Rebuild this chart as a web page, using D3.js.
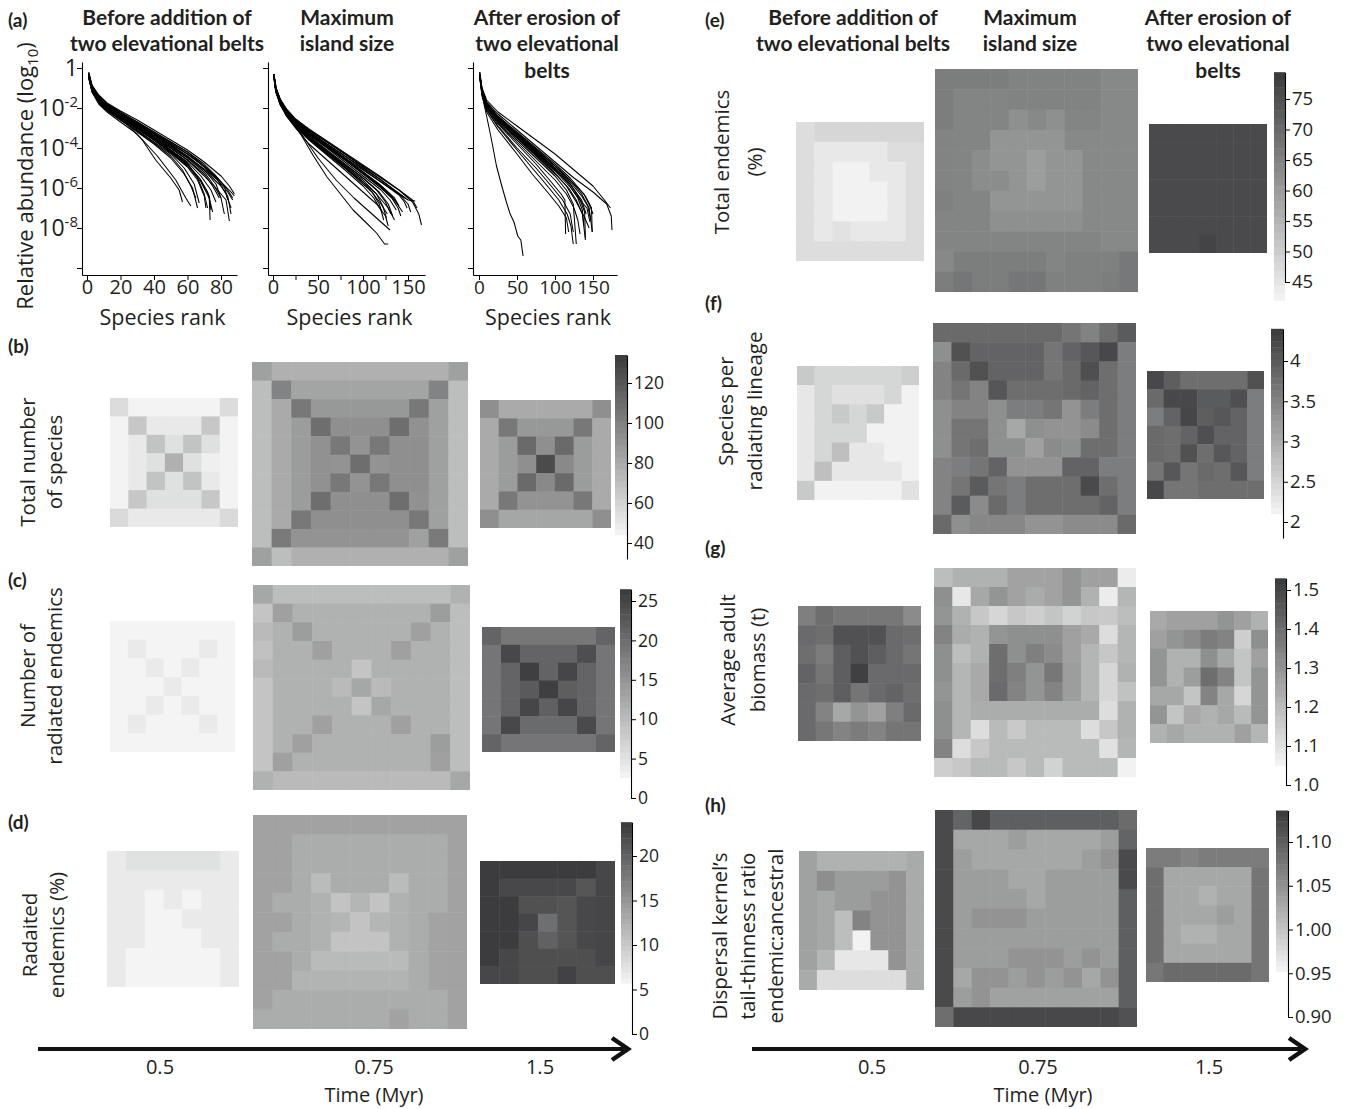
<!DOCTYPE html>
<html><head><meta charset="utf-8">
<script src="https://cdn.jsdelivr.net/npm/d3@7"></script>
<style>body{margin:0;background:#fff}svg{display:block}</style>
</head><body><svg id="c" width="1354" height="1109"></svg>
<script>
// ---------------- DATA ----------------
const columnTitles = [["Before addition of","two elevational belts"],["Maximum","island size"],["After erosion of","two elevational","belts"]];
const timeLabels = ["0.5","0.75","1.5"];

// (a) rank-abundance curves: [rank, log10 relative abundance]
const rankBefore = [
[[1,-0.3],[3,-0.95],[7,-1.5],[12,-1.9],[20,-2.3],[30,-2.8],[40,-3.3],[50,-3.8],[60,-4.3],[70,-4.9],[78,-5.5],[84,-6.1],[87,-6.5]],
[[1,-0.4],[3,-1.1],[7,-1.6],[12,-2.0],[20,-2.4],[30,-2.9],[40,-3.5],[50,-4.0],[60,-4.6],[70,-5.4],[78,-6.1],[83,-6.6],[85,-7.65]],
[[1,-0.25],[3,-0.9],[7,-1.4],[12,-1.8],[20,-2.2],[30,-2.7],[40,-3.2],[50,-3.7],[60,-4.2],[70,-4.9],[80,-5.7],[86,-6.2],[88,-6.4]],
[[1,-0.35],[3,-1.05],[7,-1.6],[12,-2.0],[20,-2.5],[30,-3.0],[40,-3.6],[50,-4.2],[60,-4.9],[68,-5.7],[73,-6.5],[73.5,-7.6]],
[[1,-0.45],[3,-1.2],[7,-1.7],[12,-2.1],[20,-2.6],[30,-3.2],[40,-3.8],[50,-4.5],[58,-5.3],[63,-6.0],[66,-7.0]],
[[1,-0.3],[3,-1.0],[7,-1.5],[12,-1.9],[20,-2.4],[26,-3.0],[33,-3.6],[41,-4.6],[50,-5.5],[55,-6.1],[57,-6.7]],
[[1,-0.5],[3,-1.2],[7,-1.8],[12,-2.2],[20,-2.7],[30,-3.3],[42,-4.4],[53,-5.6],[59,-6.5],[62,-6.9]],
[[1,-0.3],[3,-1.0],[7,-1.45],[12,-1.85],[20,-2.3],[30,-2.85],[40,-3.4],[50,-3.95],[60,-4.5],[70,-5.2],[76,-5.9],[80,-6.5],[82,-7.3]],
[[1,-0.35],[3,-1.0],[7,-1.55],[12,-1.95],[20,-2.35],[30,-2.8],[40,-3.3],[50,-3.85],[60,-4.45],[70,-5.1],[77,-5.8],[80,-6.5]],
[[1,-0.2],[3,-0.85],[7,-1.35],[12,-1.75],[20,-2.15],[30,-2.6],[40,-3.1],[50,-3.6],[60,-4.1],[70,-4.7],[80,-5.4],[85,-5.9],[88,-6.3]],
[[1,-0.4],[3,-1.1],[7,-1.65],[12,-2.05],[20,-2.5],[30,-3.0],[40,-3.55],[50,-4.15],[60,-4.8],[67,-5.5],[72,-6.2],[75,-7.2]],
[[1,-0.3],[3,-0.95],[7,-1.5],[12,-1.95],[20,-2.45],[30,-2.95],[40,-3.45],[50,-4.1],[60,-4.75],[66,-5.5],[70,-6.3],[72,-7.0]],
[[1,-0.45],[3,-1.15],[7,-1.7],[12,-2.1],[20,-2.55],[30,-3.1],[40,-3.7],[50,-4.3],[58,-5.0],[64,-5.8],[67,-6.75]],
[[1,-0.3],[3,-1.0],[7,-1.5],[12,-1.9],[20,-2.3],[30,-2.75],[40,-3.25],[50,-3.75],[60,-4.3],[70,-4.95],[78,-5.6],[83,-6.3],[86,-7.0]],
[[1,-0.25],[3,-0.9],[7,-1.4],[12,-1.8],[20,-2.25],[30,-2.7],[40,-3.2],[50,-3.7],[60,-4.2],[70,-4.8],[76,-5.3],[82,-5.9],[84,-6.6]],
[[1,-0.5],[3,-1.2],[7,-1.75],[12,-2.15],[20,-2.6],[30,-3.15],[40,-3.75],[50,-4.4],[57,-5.1],[62,-5.9],[65,-6.5]],
[[1,-0.35],[3,-1.05],[7,-1.55],[12,-1.95],[20,-2.4],[30,-2.9],[40,-3.45],[50,-4.0],[60,-4.6],[70,-5.3],[75,-5.9],[79,-6.5]],
[[1,-0.3],[3,-1.0],[7,-1.5],[12,-1.85],[20,-2.3],[30,-2.8],[40,-3.3],[50,-3.85],[60,-4.4],[70,-5.1],[80,-5.9],[84,-6.4],[86,-7.3]],
[[1,-0.4],[3,-1.1],[7,-1.6],[12,-2.0],[20,-2.45],[30,-3.0],[40,-3.6],[50,-4.25],[60,-4.95],[66,-5.6],[70,-6.4],[71,-7.0]],
[[1,-0.3],[3,-0.95],[7,-1.45],[12,-1.9],[20,-2.35],[30,-2.85],[40,-3.35],[50,-3.9],[60,-4.45],[70,-5.05],[78,-5.6],[84,-6.2],[87,-6.6]],
[[1,-0.35],[3,-1.0],[7,-1.5],[12,-1.9],[20,-2.4],[30,-2.95],[40,-3.5],[50,-4.1],[60,-4.7],[68,-5.4],[74,-6.1],[77,-6.7]],
[[1,-0.4],[3,-1.05],[7,-1.6],[12,-2.0],[20,-2.5],[30,-3.05],[40,-3.6],[50,-4.2],[60,-4.85],[68,-5.6],[73,-6.4],[74,-7.1]]
];
const rankMax = [
[[1,-0.3],[3,-1.0],[8,-1.6],[15,-2.1],[25,-2.6],[40,-3.1],[60,-3.7],[80,-4.3],[100,-4.9],[120,-5.5],[140,-6.1],[155,-6.7],[162,-7.3],[165,-7.85]],
[[1,-0.35],[3,-1.05],[8,-1.7],[15,-2.2],[25,-2.7],[40,-3.25],[60,-3.9],[80,-4.5],[100,-5.1],[120,-5.7],[140,-6.3],[150,-6.6],[158,-6.65]],
[[1,-0.4],[3,-1.1],[8,-1.75],[15,-2.25],[25,-2.8],[40,-3.4],[60,-4.1],[80,-4.8],[100,-5.5],[115,-6.1],[125,-6.7],[131,-7.3]],
[[1,-0.3],[3,-1.0],[8,-1.65],[15,-2.15],[25,-2.65],[40,-3.2],[60,-3.85],[80,-4.5],[100,-5.2],[120,-5.9],[135,-6.5],[140,-6.9]],
[[1,-0.45],[3,-1.15],[8,-1.8],[15,-2.35],[25,-2.9],[40,-3.55],[60,-4.3],[80,-5.0],[100,-5.7],[115,-6.3],[128,-7.0],[135,-7.6]],
[[1,-0.3],[3,-1.0],[8,-1.6],[15,-2.1],[25,-2.6],[40,-3.15],[60,-3.8],[80,-4.4],[100,-5.0],[120,-5.6],[135,-6.1],[147,-6.5]],
[[1,-0.35],[3,-1.1],[8,-1.7],[15,-2.2],[25,-2.75],[40,-3.35],[60,-4.0],[80,-4.7],[100,-5.4],[120,-6.1],[130,-6.6],[137,-7.1]],
[[1,-0.4],[3,-1.1],[8,-1.8],[15,-2.3],[25,-2.85],[40,-3.5],[60,-4.2],[80,-4.9],[100,-5.6],[115,-6.3],[122,-6.9],[126,-7.5]],
[[1,-0.3],[3,-0.95],[8,-1.55],[15,-2.05],[25,-2.55],[40,-3.1],[60,-3.7],[80,-4.3],[100,-4.95],[120,-5.6],[140,-6.3],[150,-6.8],[153,-7.2]],
[[1,-0.5],[3,-1.2],[8,-1.85],[15,-2.4],[25,-2.95],[40,-3.6],[60,-4.35],[80,-5.1],[100,-5.9],[112,-6.5],[120,-7.1],[123,-7.6]],
[[1,-0.35],[3,-1.05],[8,-1.65],[15,-2.15],[25,-2.7],[40,-3.3],[60,-3.95],[80,-4.6],[100,-5.3],[120,-6.0],[132,-6.5],[139,-7.0],[142,-7.4]],
[[1,-0.3],[3,-1.0],[8,-1.6],[15,-2.1],[25,-2.6],[40,-3.2],[60,-3.8],[80,-4.4],[100,-5.05],[120,-5.7],[140,-6.35],[146,-6.7],[149,-7.0]],
[[1,-0.4],[3,-1.1],[8,-1.75],[15,-2.25],[25,-2.8],[40,-3.45],[60,-4.15],[80,-4.85],[100,-5.5],[118,-6.2],[128,-6.8],[133,-7.4]],
[[1,-0.35],[3,-1.05],[8,-1.7],[15,-2.2],[25,-2.75],[40,-3.3],[60,-3.95],[80,-4.6],[100,-5.25],[120,-5.95],[135,-6.6],[144,-7.2]],
[[1,-0.45],[3,-1.15],[8,-1.8],[15,-2.3],[25,-2.9],[40,-3.55],[60,-4.25],[80,-5.0],[95,-5.6],[110,-6.2],[120,-6.8],[127,-7.3]],
[[1,-0.3],[3,-1.0],[8,-1.6],[15,-2.1],[25,-2.65],[40,-3.25],[60,-3.9],[80,-4.55],[100,-5.2],[118,-5.8],[130,-6.3],[138,-6.8]],
[[1,-0.4],[3,-1.1],[8,-1.7],[15,-2.3],[25,-2.85],[40,-3.5],[60,-4.2],[80,-4.95],[100,-5.7],[110,-6.2],[118,-6.8],[121,-7.2]],
[[1,-0.3],[3,-1.0],[8,-1.6],[15,-2.05],[25,-2.55],[40,-3.05],[60,-3.65],[80,-4.25],[100,-4.85],[120,-5.45],[140,-6.1],[155,-6.6],[160,-7.0]],
[[1,-0.3],[4,-1.1],[15,-2.4],[30,-3.25],[45,-4.4],[60,-5.45],[75,-6.3],[89,-7.1],[105,-7.8],[115,-8.25],[124,-8.8],[128,-8.8]],
[[1,-0.4],[5,-1.3],[15,-2.3],[30,-3.2],[50,-4.5],[70,-5.6],[90,-6.5],[110,-7.3],[125,-7.9],[130,-8.1]],
[[1,-0.35],[3,-1.1],[8,-1.8],[15,-2.4],[25,-3.0],[40,-3.8],[60,-4.6],[80,-5.4],[100,-6.2],[115,-6.8],[125,-7.4],[128,-7.9]]
];
const rankAfter = [
[[1,-0.2],[4,-1.0],[10,-1.6],[25,-2.2],[50,-2.9],[75,-3.6],[100,-4.3],[125,-5.1],[150,-5.9],[165,-6.6],[173,-7.0]],
[[1,-0.3],[4,-1.1],[10,-1.7],[25,-2.3],[50,-3.1],[75,-3.9],[100,-4.7],[125,-5.5],[150,-6.2],[168,-6.8],[174,-7.4],[175,-8.1]],
[[1,-0.3],[4,-1.15],[10,-1.8],[25,-2.5],[50,-3.3],[75,-4.1],[100,-4.9],[120,-5.6],[135,-6.3],[145,-7.0],[149,-8.2]],
[[1,-0.35],[4,-1.2],[10,-1.85],[25,-2.55],[50,-3.4],[75,-4.25],[100,-5.1],[120,-5.8],[132,-6.5],[139,-7.2],[140,-8.5]],
[[1,-0.4],[4,-1.25],[10,-1.9],[25,-2.7],[50,-3.6],[75,-4.5],[100,-5.4],[115,-6.1],[124,-6.8],[128,-8.8]],
[[1,-0.3],[4,-1.1],[10,-1.75],[25,-2.45],[50,-3.3],[75,-4.15],[100,-5.0],[120,-5.8],[135,-6.6],[141,-7.3]],
[[1,-0.35],[4,-1.2],[10,-1.9],[25,-2.6],[50,-3.5],[75,-4.35],[100,-5.25],[115,-5.9],[128,-6.7],[138,-7.4],[145,-8.0]],
[[1,-0.4],[4,-1.3],[10,-2.0],[25,-2.8],[50,-3.8],[75,-4.8],[95,-5.7],[108,-6.3],[113,-6.6],[114,-8.3]],
[[1,-0.3],[4,-1.15],[10,-1.8],[25,-2.5],[50,-3.35],[75,-4.2],[100,-5.0],[120,-5.7],[135,-6.4],[143,-6.9],[147,-7.6]],
[[1,-0.45],[4,-1.3],[10,-2.05],[25,-2.9],[50,-4.0],[75,-5.0],[95,-5.9],[110,-6.6],[120,-7.3],[124,-8.2]],
[[1,-0.35],[4,-1.2],[10,-1.85],[25,-2.6],[50,-3.45],[75,-4.3],[100,-5.15],[120,-5.95],[133,-6.6],[142,-7.0],[146,-7.7]],
[[1,-0.3],[4,-1.1],[10,-1.7],[25,-2.4],[50,-3.2],[75,-4.0],[100,-4.8],[120,-5.5],[138,-6.3],[146,-6.9],[150,-7.3]],
[[1,-0.5],[4,-1.4],[10,-2.2],[25,-3.1],[50,-4.3],[70,-5.3],[90,-6.2],[105,-6.9],[115,-7.5],[118,-8.2]],
[[1,-0.4],[4,-1.25],[10,-1.95],[25,-2.75],[50,-3.7],[75,-4.65],[100,-5.6],[115,-6.3],[125,-7.0],[130,-7.6],[133,-8.3]],
[[1,-0.3],[4,-1.15],[10,-1.8],[25,-2.5],[50,-3.35],[75,-4.2],[100,-5.05],[118,-5.8],[130,-6.5],[136,-7.1],[138,-7.9]],
[[1,-0.35],[4,-1.2],[10,-1.9],[25,-2.65],[50,-3.5],[75,-4.4],[100,-5.3],[118,-6.0],[128,-6.6],[136,-7.3],[140,-8.6]],
[[1,-0.45],[4,-1.35],[10,-2.1],[25,-2.95],[50,-4.1],[70,-5.0],[90,-5.9],[105,-6.6],[116,-7.3],[121,-7.9],[124,-8.8]],
[[1,-0.2],[3,-0.9],[6,-1.7],[10,-2.4],[16,-3.5],[23,-4.9],[30,-5.9],[36,-6.7],[41,-7.3],[46,-7.7],[51,-8.4],[55,-8.6],[58,-9.4]],
[[1,-0.3],[4,-1.1],[10,-1.75],[25,-2.45],[50,-3.25],[75,-4.05],[100,-4.9],[125,-5.8],[140,-6.4],[148,-7.0],[149,-8.2]]
];

// (b) Total number of species
const bRange = [44, 134];
const bTicks = [40, 60, 80, 100, 120];
const bSmall = [
[56,45,45,45,45,45,56],
[45,66,50,50,50,66,45],
[45,50,68,54,68,54,45],
[45,50,54,77,54,47,45],
[45,50,68,54,68,50,45],
[45,66,54,54,54,66,45],
[57,50,50,50,50,50,57]];
const bLarge = [
[85,77,77,77,77,77,77,77,77,77,85],
[71,99,83,83,83,83,83,83,83,99,71],
[71,80,104,89,89,89,89,89,104,85,71],
[71,80,87,109,93,93,93,109,92,85,71],
[71,80,87,92,104,91,104,93,93,85,71],
[71,80,87,92,91,109,91,93,93,85,71],
[71,80,87,92,104,91,104,93,93,85,71],
[71,80,87,109,93,93,93,109,92,85,71],
[71,80,104,93,93,93,93,93,104,85,71],
[71,103,91,91,91,91,91,91,85,103,71],
[85,71,77,77,77,77,77,77,77,77,85]];
const bMedium = [
[93,80,80,80,80,80,93],
[80,104,89,89,89,104,80],
[80,87,111,93,111,87,80],
[80,87,93,126,96,87,80],
[80,87,111,96,111,87,80],
[80,104,91,91,91,104,80],
[93,82,82,82,82,82,93]];

// (c) Number of radiated endemics
const cRange = [2.6, 26.5];
const cTicks = [0, 5, 10, 15, 20, 25];
const cSmall = [
[2.7,2.7,2.7,2.7,2.7,2.7,2.7],
[2.7,4.0,2.7,2.7,2.7,4.0,2.7],
[2.7,2.7,4.0,2.7,4.0,2.7,2.7],
[2.7,2.7,2.7,4.0,2.7,2.7,2.7],
[2.7,2.7,4.0,2.7,4.0,2.7,2.7],
[2.7,4.0,2.7,2.7,2.7,4.0,2.7],
[2.7,2.7,2.7,2.7,2.7,2.7,2.7]];
const cLarge = [
[12.6,9.8,9.8,9.8,9.8,9.8,9.8,9.8,9.8,9.8,11.3],
[8.9,13.4,11.3,11.3,11.3,11.3,11.3,11.3,11.3,13.9,9.8],
[10.2,11.3,13.9,11.3,11.3,11.3,11.3,11.3,13.4,11.3,9.8],
[9.3,11.3,11.3,13.4,11.3,11.3,11.3,13.4,11.3,11.3,9.8],
[10.2,11.3,11.3,11.3,11.3,8.9,11.3,11.3,11.3,11.3,9.8],
[8.9,11.3,11.3,11.3,10.2,12.6,10.2,11.3,11.3,11.3,9.8],
[8.9,11.3,11.3,11.3,11.3,8.9,12.6,11.3,11.3,11.3,9.8],
[8.9,11.3,11.3,13.4,11.3,11.3,11.3,13.4,11.3,11.3,9.8],
[8.9,11.3,13.4,11.3,11.3,11.3,11.3,11.3,11.3,13.9,9.8],
[8.9,13.4,11.3,11.3,11.3,11.3,11.3,11.3,11.3,13.4,9.8],
[11.3,10.2,10.2,10.2,10.2,10.2,10.2,10.2,10.2,10.2,12.6]];
const cMedium = [
[21.1,18.7,18.7,18.7,18.7,18.7,21.1],
[18.9,24.7,21.1,21.1,21.1,23.9,18.9],
[18.9,21.1,25.9,21.2,25.0,21.1,18.9],
[18.9,21.1,22.4,25.9,21.9,21.1,18.9],
[18.9,21.1,25.0,21.6,25.0,21.1,18.9],
[18.9,24.7,20.3,20.3,20.3,24.4,18.9],
[21.1,18.9,18.9,18.9,18.9,18.9,21.1]];

// (d) Radiated endemics (%)
const dRange = [5.7, 23.8];
const dTicks = [0, 5, 10, 15, 20];
const dSmall = [
[6.8,7.6,7.6,7.6,7.6,7.6,6.8],
[6.8,6.8,6.8,6.8,6.8,6.8,6.8],
[6.8,6.8,5.8,6.8,5.8,6.8,6.8],
[6.8,6.8,5.8,5.8,6.8,6.8,6.8],
[6.8,6.8,5.8,5.8,5.8,6.8,6.8],
[6.8,5.8,5.8,5.8,5.8,5.8,6.8],
[6.8,5.8,5.8,5.8,5.8,5.8,6.8]];
const dLarge = [
[13.7,13.7,13.7,13.7,13.7,13.7,13.7,13.7,13.7,13.7,13.7],
[13.7,13.7,12.8,12.8,12.8,12.8,12.8,12.8,12.8,12.8,13.7],
[13.7,13.7,12.8,12.8,12.8,12.8,12.8,12.8,12.8,12.8,13.7],
[13.7,13.7,12.8,11.3,12.8,12.8,12.8,11.3,12.8,12.8,13.7],
[13.7,12.8,12.8,12.3,10.5,11.9,10.5,12.3,12.8,12.8,13.7],
[13.7,13.7,12.8,12.3,11.9,10.5,11.9,12.3,12.8,13.6,13.7],
[13.7,12.8,12.8,12.3,10.5,10.5,10.5,12.3,12.8,13.6,13.7],
[13.7,13.7,12.8,11.4,11.4,11.4,11.4,11.4,12.8,13.6,13.7],
[13.7,13.7,12.1,12.1,12.1,12.1,12.1,12.1,12.8,13.6,13.7],
[13.7,12.8,12.8,12.8,12.8,12.8,12.8,12.8,12.8,12.8,13.7],
[12.8,12.8,12.8,12.8,12.8,12.8,12.8,13.7,12.8,12.8,13.7]];
const dMedium = [
[23.6,23.6,23.6,23.6,23.6,23.6,22.5],
[23.6,22.4,22.4,22.4,22.4,21.1,22.6],
[23.6,23.6,21.6,21.6,21.2,22.4,22.6],
[23.6,23.6,22.6,18.7,21.2,22.4,22.6],
[23.6,23.6,21.8,20.0,21.2,22.4,22.6],
[23.6,22.5,21.8,21.8,21.8,21.8,22.6],
[22.5,22.5,21.8,21.8,23.0,21.8,21.8]];

// (e) Total endemics (%)
const eRange = [42, 79.4];
const eTicks = [45, 50, 55, 60, 65, 70, 75];
const eSmall = [
[46.8,48.2,48.2,48.2,48.2,48.2,48.2],
[46.8,44.6,44.6,44.6,44.6,46.8,46.8],
[46.8,44.6,42.6,42.6,44.6,44.6,46.8],
[46.8,44.6,42.6,42.6,42.6,44.6,46.8],
[46.8,44.6,42.6,42.6,42.6,44.6,46.8],
[46.8,44.6,45.8,44.6,44.6,44.6,46.8],
[46.8,46.8,46.8,46.8,46.8,46.8,46.8]];
const eLarge = [
[66.1,66.1,66.1,66.1,65.1,65.1,65.1,65.1,65.1,63.9,63.9],
[66.1,64.7,64.7,64.7,65.1,65.1,65.1,65.1,65.1,63.9,63.9],
[66.1,64.7,64.7,64.7,62.5,63.9,62.5,64.7,64.7,63.9,63.9],
[64.9,64.7,64.7,61.5,61.5,61.5,61.5,63.9,63.9,63.9,63.9],
[64.9,64.7,63.1,61.5,61.5,59.7,61.5,61.5,63.9,63.9,63.9],
[64.9,64.7,63.1,63.1,61.5,59.7,61.5,61.5,63.9,63.9,63.9],
[65.5,64.7,64.7,61.5,61.5,61.5,61.5,61.5,63.9,63.9,63.9],
[64.7,64.7,64.7,62.5,62.5,62.5,62.5,62.5,63.9,63.9,63.9],
[64.7,64.7,64.7,64.7,64.7,64.7,64.7,64.7,64.7,63.9,63.9],
[63.9,66.1,66.1,66.1,66.1,66.1,64.7,65.5,65.5,65.5,67.1],
[66.1,67.5,66.1,66.1,67.5,67.5,65.5,65.5,65.5,66.1,67.1]];
const eMedium = [
[76.2,76.2,76.2,76.2,76.2,76.2,76.2],
[76.2,76.2,76.2,76.2,76.2,76.2,76.2],
[76.2,76.2,76.2,76.2,76.2,76.2,76.2],
[76.2,76.2,76.2,76.2,76.2,76.2,76.2],
[76.2,76.2,76.2,76.2,76.2,76.2,76.2],
[76.2,76.2,76.2,76.2,76.2,76.2,76.2],
[76.2,76.2,76.2,77.4,76.2,76.2,76.2]];

// (f) Species per radiating lineage
const fRange = [2.1, 4.4];
const fTicks = [2, 2.5, 3, 3.5, 4];
const fSmall = [
[2.64,2.48,2.48,2.48,2.48,2.48,2.58],
[2.27,2.48,2.36,2.36,2.36,2.48,2.14],
[2.27,2.48,2.64,2.48,2.64,2.14,2.14],
[2.27,2.48,2.48,2.48,2.14,2.14,2.14],
[2.27,2.48,2.76,2.27,2.27,2.14,2.14],
[2.27,2.76,2.27,2.27,2.27,2.27,2.14],
[2.64,2.14,2.14,2.14,2.14,2.14,2.34]];
const fLarge = [
[3.81,3.81,3.81,3.81,3.81,3.81,3.81,3.67,3.52,3.76,4.00],
[3.36,4.12,3.89,3.89,3.89,3.89,3.67,3.89,4.04,4.23,3.58],
[3.50,3.81,4.12,3.89,3.89,3.89,3.67,3.81,4.14,3.76,3.58],
[3.50,3.67,3.50,4.05,3.76,3.76,3.76,3.81,3.89,3.76,3.58],
[3.36,3.50,3.50,3.36,3.58,3.58,3.67,3.30,3.58,3.76,3.58],
[3.36,3.67,3.67,3.36,3.06,3.36,3.30,3.30,3.40,3.76,3.58],
[3.36,3.67,3.76,3.36,3.36,3.14,3.40,3.36,3.76,3.76,3.58],
[3.50,3.58,3.67,3.89,3.30,3.30,3.30,3.89,3.89,3.58,3.58],
[3.50,3.67,4.00,3.67,3.58,3.76,3.76,3.76,4.20,3.76,3.58],
[3.50,4.00,3.40,3.81,3.58,3.76,3.76,3.76,3.76,3.89,3.58],
[3.81,3.36,3.45,3.45,3.45,3.30,3.30,3.40,3.40,3.40,3.81]];
const fMedium = [
[4.23,3.96,3.76,3.76,3.76,3.76,4.12],
[3.81,4.23,4.23,4.00,4.00,4.14,3.58],
[3.58,3.89,4.25,3.96,4.04,3.89,3.58],
[3.81,3.76,3.89,4.14,3.89,3.89,3.58],
[3.81,3.76,4.12,3.76,4.04,3.89,3.58],
[3.67,4.04,3.67,3.81,3.76,4.04,3.58],
[4.23,3.67,3.67,3.76,3.76,3.76,3.76]];

// (g) Average adult biomass (t)
const gRange = [1.05, 1.53];
const gTicks = [1.0, 1.1, 1.2, 1.3, 1.4, 1.5];
const gSmall = [
[1.352,1.396,1.373,1.373,1.373,1.373,1.321],
[1.406,1.396,1.471,1.471,1.471,1.406,1.396],
[1.396,1.360,1.437,1.471,1.437,1.406,1.378],
[1.424,1.378,1.437,1.514,1.406,1.406,1.406],
[1.406,1.396,1.437,1.378,1.406,1.424,1.396],
[1.406,1.342,1.251,1.300,1.267,1.352,1.406],
[1.406,1.373,1.342,1.360,1.342,1.378,1.378]];
const gLarge = [
[1.194,1.225,1.225,1.225,1.262,1.262,1.262,1.300,1.267,1.267,1.073],
[1.313,1.086,1.251,1.300,1.262,1.241,1.262,1.300,1.225,1.073,1.215],
[1.300,1.225,1.169,1.130,1.169,1.151,1.176,1.140,1.169,1.164,1.194],
[1.342,1.241,1.225,1.300,1.313,1.313,1.313,1.267,1.244,1.112,1.215],
[1.313,1.194,1.225,1.396,1.313,1.352,1.321,1.267,1.215,1.169,1.215],
[1.313,1.215,1.244,1.396,1.352,1.300,1.373,1.277,1.215,1.130,1.225],
[1.300,1.215,1.244,1.406,1.342,1.300,1.342,1.277,1.215,1.130,1.184],
[1.313,1.215,1.238,1.238,1.238,1.238,1.238,1.238,1.238,1.112,1.225],
[1.313,1.215,1.112,1.202,1.164,1.202,1.202,1.202,1.112,1.169,1.225],
[1.342,1.112,1.169,1.202,1.202,1.202,1.202,1.202,1.202,1.102,1.215],
[1.151,1.169,1.202,1.202,1.169,1.202,1.140,1.202,1.202,1.202,1.058]];
const gMedium = [
[1.244,1.267,1.267,1.267,1.300,1.267,1.225],
[1.267,1.300,1.321,1.360,1.342,1.151,1.313],
[1.300,1.225,1.225,1.313,1.251,1.176,1.267],
[1.300,1.225,1.277,1.396,1.342,1.176,1.300],
[1.251,1.251,1.176,1.342,1.251,1.130,1.300],
[1.300,1.176,1.244,1.225,1.251,1.202,1.300],
[1.225,1.251,1.225,1.225,1.225,1.267,1.215]];

// (h) Dispersal kernel's tail-thinness ratio endemic:ancestral
const hRange = [0.952, 1.136];
const hTicks = [0.90, 0.95, 1.00, 1.05, 1.10];
const hSmall = [
[1.035,1.019,1.019,1.019,1.019,1.019,1.026],
[1.035,1.053,1.040,1.040,1.040,1.048,1.026],
[1.035,1.029,1.040,1.040,1.048,1.048,1.026],
[1.035,1.029,1.007,1.064,1.048,1.048,1.026],
[1.035,1.029,1.007,0.955,1.048,1.048,1.026],
[1.035,1.015,0.966,0.966,0.966,1.048,1.026],
[1.026,0.976,0.976,0.976,0.976,0.976,1.026]];
const hLarge = [
[1.120,1.095,1.123,1.100,1.100,1.100,1.100,1.100,1.100,1.100,1.088],
[1.120,1.029,1.029,1.029,1.039,1.029,1.029,1.029,1.029,1.039,1.095],
[1.120,1.039,1.029,1.029,1.029,1.029,1.029,1.029,1.039,1.048,1.120],
[1.120,1.039,1.039,1.039,1.029,1.029,1.039,1.039,1.039,1.039,1.120],
[1.120,1.039,1.039,1.039,1.039,1.029,1.039,1.039,1.039,1.039,1.100],
[1.120,1.039,1.048,1.048,1.048,1.039,1.039,1.039,1.039,1.039,1.100],
[1.120,1.039,1.039,1.039,1.039,1.039,1.039,1.039,1.039,1.039,1.100],
[1.120,1.039,1.039,1.039,1.048,1.048,1.048,1.039,1.048,1.039,1.100],
[1.120,1.029,1.048,1.048,1.039,1.048,1.039,1.048,1.029,1.048,1.100],
[1.120,1.039,1.048,1.035,1.035,1.035,1.035,1.035,1.035,1.035,1.100],
[1.085,1.122,1.122,1.122,1.122,1.122,1.122,1.122,1.122,1.122,1.113]];
const hMedium = [
[1.071,1.071,1.064,1.071,1.071,1.071,1.071],
[1.085,1.029,1.029,1.029,1.029,1.029,1.078],
[1.085,1.029,1.029,1.019,1.029,1.029,1.078],
[1.085,1.029,1.029,1.029,1.039,1.029,1.078],
[1.085,1.029,1.019,1.019,1.029,1.029,1.078],
[1.085,1.029,1.029,1.029,1.029,1.029,1.078],
[1.076,1.088,1.088,1.088,1.088,1.088,1.078]];

// ---------------- LAYOUT / STYLE ----------------
const FONT = "'Open Sans', 'DejaVu Sans', sans-serif";
const TFONT = "Lato, 'Open Sans', sans-serif";
const INK = "#231f20";
const LIGHT = "#f4f5f4", DARK = "#3a3a3c";

const svg = d3.select("#c");
svg.append("rect").attr("width",1354).attr("height",1109).attr("fill","#fff");

function txt(x, y, s, o = {}) {
  return svg.append("text").attr("x", x).attr("y", y).text(s)
    .attr("font-family", o.family || FONT).attr("font-size", o.size || 20)
    .attr("font-weight", o.weight || "normal").attr("fill", INK)
    .attr("text-anchor", o.anchor || "middle");
}
function vtxt(cx, cy, s, size) {
  svg.append("text").attr("transform", `translate(${cx},${cy}) rotate(-90)`)
    .attr("text-anchor", "middle").attr("font-family", FONT).attr("font-size", size)
    .attr("fill", INK).text(s);
}

// panel letters
const letters = [["(a)",8,27],["(b)",8,353],["(c)",8,587],["(d)",8,829],["(e)",705,27],["(f)",705,310],["(g)",705,555],["(h)",705,812]];
letters.forEach(([s,x,y]) => txt(x, y, s, {weight:"bold", size:19, anchor:"start", family:TFONT}));

// column titles
const titleCentersLeft = [167, 347, 547], titleCentersRight = [853, 1030, 1218];
const titleBaselines = [25, 51, 78];
columnTitles.forEach((lines, i) => {
  lines.forEach((l, j) => {
    txt(titleCentersLeft[i], titleBaselines[j], l, {weight:"bold", size:21, family:TFONT});
    txt(titleCentersRight[i], titleBaselines[j], l, {weight:"bold", size:21, family:TFONT});
  });
});

// ---------------- (a) rank-abundance ----------------
const yA = d3.scaleLinear().domain([0, -10]).range([68, 268]);
const rankPlots = [
  {curves: rankBefore, x0: 87, xEnd: 87 + 1.675*100, axX: 82, lineEnd: 237, ticks:[0,20,40,60,80], labels:[0,20,40,60,80], fs:20, ylab:true},
  {curves: rankMax, x0: 273, xEnd: 273 + 0.9*100, axX: 268, lineEnd: 425, ticks:[0,25,50,75,100,125,150], labels:[0,50,100,150], fs:20, ylab:false},
  {curves: rankAfter, x0: 479, xEnd: 479 + 0.76*100, axX: 473, lineEnd: 617, ticks:[0,50,100,150], labels:[0,50,100,150], fs:19, ylab:false}
];
rankPlots.forEach(p => {
  const x = d3.scaleLinear().domain([0, 100]).range([p.x0, p.xEnd]);
  const g = svg.append("g");
  const line = d3.line().x(d => x(d[0])).y(d => yA(d[1]));
  g.selectAll("path.c").data(p.curves).join("path").attr("class","c")
    .attr("d", line).attr("fill","none").attr("stroke","#000").attr("stroke-width",1.05)
    .attr("stroke-linejoin","round");
  // y axis
  const yAx = yA.copy().domain([0.3, -10.35]).range([yA(0.3), yA(-10.35)]);
  const ya = svg.append("g").attr("transform", `translate(${p.axX},0)`)
    .call(d3.axisLeft(yAx).tickValues([0,-2,-4,-6,-8,-10]).tickSize(5).tickSizeOuter(0).tickFormat(""));
  ya.select(".domain").attr("stroke","#000").attr("stroke-width",1.1);
  ya.selectAll(".tick line").attr("stroke","#000");
  ya.selectAll("text").remove();
  // x axis
  const xAx = x.copy().domain([x.invert(p.axX), x.invert(p.lineEnd)]).range([p.axX, p.lineEnd]);
  const xa = svg.append("g").attr("transform", `translate(0,275)`)
    .call(d3.axisBottom(xAx).tickValues(p.ticks).tickSize(5).tickSizeOuter(0).tickPadding(0)
      .tickFormat(d => p.labels.includes(d) ? d : ""));
  xa.select(".domain").attr("stroke","#000").attr("stroke-width",1.1);
  xa.selectAll(".tick line").attr("stroke","#000");
  xa.selectAll("text").filter(d => !p.labels.includes(d)).remove();
  xa.selectAll("text").attr("font-family", FONT).attr("font-size", p.fs).attr("fill", INK);
  txt((p.axX + p.lineEnd)/2 + 3, 325, "Species rank", {size:21.5});
  if (p.ylab) {
    [0,-2,-4,-6,-8].forEach(v => {
      const t = svg.append("text").attr("x", 78).attr("y", yA(v)).attr("dy","0.36em")
        .attr("text-anchor","end").attr("font-family",FONT).attr("font-size",23).attr("fill",INK);
      if (v === 0) t.text("1");
      else { t.append("tspan").text("10"); t.append("tspan").attr("dy",-9).attr("font-size",15).text(String(v)); }
    });
  }
});
// y label with subscript
{
  const t = svg.append("text").attr("transform","translate(33,176) rotate(-90)")
    .attr("text-anchor","middle").attr("font-family",FONT).attr("font-size",22).attr("fill",INK);
  t.append("tspan").text("Relative abundance (log");
  t.append("tspan").attr("dy",5).attr("font-size",15).text("10");
  t.append("tspan").attr("dy",-5).text(")");
}

// ---------------- heatmaps ----------------
function colorFor(range) {
  return d3.scaleLinear().domain(range).range([LIGHT, DARK]).clamp(true);
}
function drawGrid(data, box, color) {
  const rows = data.length, cols = data[0].length;
  const x = d3.scaleBand().domain(d3.range(cols)).range([box[0], box[1]]);
  const y = d3.scaleBand().domain(d3.range(rows)).range([box[2], box[3]]);
  const cells = data.flatMap((row, r) => row.map((v, c) => ({r, c, v})));
  svg.append("g").selectAll("rect").data(cells).join("rect")
    .attr("x", d => x(d.c)).attr("y", d => y(d.r))
    .attr("width", d => x.bandwidth() + (d.c < cols-1 ? 0.5 : 0))
    .attr("height", d => y.bandwidth() + (d.r < rows-1 ? 0.5 : 0))
    .attr("fill", d => color(d.v));
}
function drawBar(b) {
  const s = d3.scaleLinear().domain([b.cal[0], b.cal[1]]).range([b.cal[2], b.cal[3]]);
  const color = colorFor(b.range);
  const n = 30, lo = b.range[0], hi = b.range[1], st = (hi - lo) / n;
  const steps = d3.range(n).map(i => lo + st * i);
  svg.append("g").selectAll("rect").data(steps).join("rect")
    .attr("x", b.x0).attr("width", b.x1 - b.x0)
    .attr("y", d => s(d + st)).attr("height", d => s(d) - s(d + st) + 0.4)
    .attr("fill", d => color(d + st / 2));
  const axS = s.copy().domain([b.line[0], b.line[1]]).range([s(b.line[0]), s(b.line[1])]);
  const ag = svg.append("g").attr("transform", `translate(${b.x1},0)`)
    .call(d3.axisRight(axS).tickValues(b.ticks).tickSize(5).tickSizeOuter(0).tickPadding(2).tickFormat(b.fmt));
  ag.select(".domain").attr("stroke","#000").attr("stroke-width",1.1);
  ag.selectAll(".tick line").attr("stroke","#000");
  ag.selectAll("text").attr("font-family", FONT).attr("font-size", b.fs).attr("fill", INK);
}

const panels = [
  {grids:[bSmall,bLarge,bMedium], range:bRange, boxes:[[110,238,398,527],[252,468,362,566],[480,611,400,528]],
   bar:{x0:615,x1:627,cal:[120,40,383,543],line:[134,32],ticks:bTicks,fmt:d3.format("d"),fs:17.5},
   label:["Total number","of species"], lx:[35,62], ly:462},
  {grids:[cSmall,cLarge,cMedium], range:cRange, boxes:[[110,235,621,752],[253,470,585,790],[482,615,627,752]],
   bar:{x0:620,x1:631,cal:[25,0,601,798],line:[26.5,0],ticks:cTicks,fmt:d3.format("d"),fs:17.5},
   label:["Number of","radiated endemics"], lx:[35,62], ly:676},
  {grids:[dSmall,dLarge,dMedium], range:dRange, boxes:[[107,239,851,987],[253,467,815,1029],[480,615,861,984]],
   bar:{x0:621,x1:632,cal:[20,0,856,1034],line:[23.8,0],ticks:dTicks,fmt:d3.format("d"),fs:17.5},
   label:["Radaited","endemics (%)"], lx:[37,64], ly:935},
  {grids:[eSmall,eLarge,eMedium], range:eRange, boxes:[[796,924,122,261],[935,1138,69,292],[1149,1267,124,253]],
   bar:{x0:1274,x1:1285,cal:[75,45,99,282],line:[79.4,45],ticks:eTicks,fmt:d3.format("d"),fs:18.5},
   label:["Total endemics","(%)"], lx:[729,762], ly:162},
  {grids:[fSmall,fLarge,fMedium], range:fRange, boxes:[[797,919,366,500],[933,1136,323,534],[1147,1264,371,499]],
   bar:{x0:1271,x1:1283,cal:[4,2,361,522],line:[4.4,1.8],ticks:fTicks,fmt:d => d,fs:18.5},
   label:["Species per","radiating lineage"], lx:[733,762], ly:411},
  {grids:[gSmall,gLarge,gMedium], range:gRange, boxes:[[798,921,606,741],[934,1136,568,777],[1150,1268,611,743]],
   bar:{x0:1275,x1:1286,cal:[1.5,1.0,590,785],line:[1.53,1.0],ticks:gTicks,fmt:d3.format(".1f"),fs:18.5},
   label:["Average adult","biomass (t)"], lx:[735,765], ly:660},
  {grids:[hSmall,hLarge,hMedium], range:hRange, boxes:[[799,924,851,990],[935,1137,810,1027],[1146,1269,848,982]],
   bar:{x0:1276,x1:1288,cal:[1.10,0.90,842,1017],line:[1.136,0.90],ticks:hTicks,fmt:d3.format(".2f"),fs:18.5},
   label:["Dispersal kernel\u2019s","tail-thinness ratio","endemic:ancestral"], lx:[727,755,783], ly:936}
];
panels.forEach(p => {
  const color = colorFor(p.range);
  p.grids.forEach((g, i) => drawGrid(g, p.boxes[i], color));
  drawBar(Object.assign({range: p.range}, p.bar));
  p.label.forEach((l, i) => vtxt(p.lx[i], p.ly, l, 20.5));
});

// ---------------- time arrows ----------------
function arrow(x1, x2, y) {
  svg.append("line").attr("x1", x1).attr("x2", x2 - 4).attr("y1", y).attr("y2", y)
    .attr("stroke", "#111").attr("stroke-width", 4);
  svg.append("path").attr("d", `M${x2-16},${y-11} L${x2},${y} L${x2-16},${y+11}`)
    .attr("fill","none").attr("stroke","#111").attr("stroke-width",4.5).attr("stroke-linejoin","miter");
}
arrow(38, 628, 1049);
arrow(752, 1305, 1049);
const timeXLeft = [160, 374, 540], timeXRight = [872, 1038, 1209];
timeLabels.forEach((s, i) => { txt(timeXLeft[i], 1074, s, {size:20}); txt(timeXRight[i], 1074, s, {size:20}); });
txt(374, 1102, "Time (Myr)", {size:20});
txt(1043, 1102, "Time (Myr)", {size:20});
</script></body></html>
